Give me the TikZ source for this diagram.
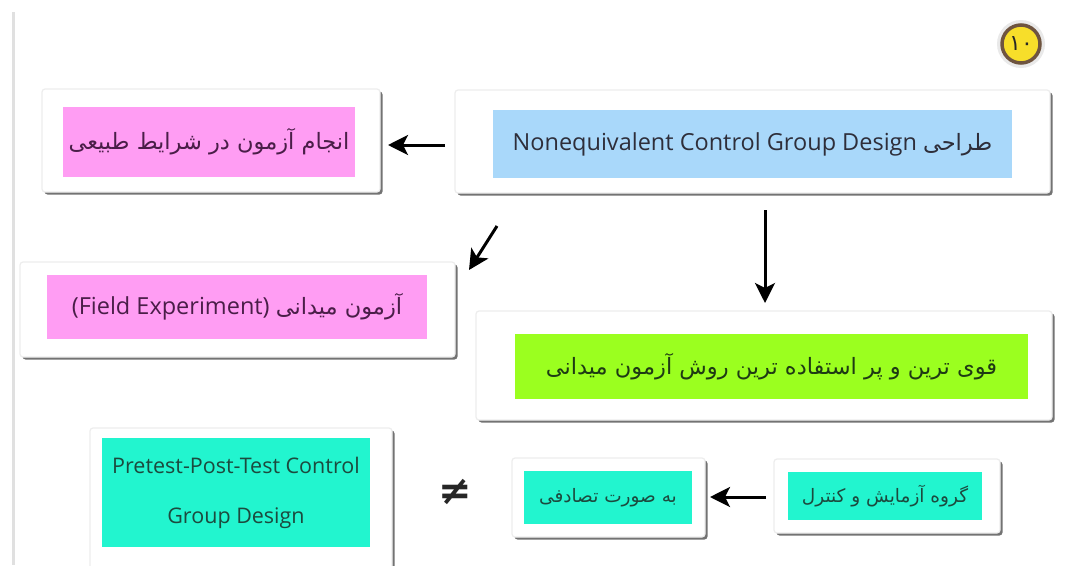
\documentclass[tikz,border=0pt]{standalone}
\usepackage{fontspec}
\setmainfont{Open Sans}
\newfontfamily\fa[Script=Arabic]{DejaVu Sans}
\newfontfamily\sym{DejaVu Sans}
\TeXXeTstate=1
\usetikzlibrary{arrows.meta,shadows}
\definecolor{cblue}{HTML}{A9D8FA}
\definecolor{cpink}{HTML}{FF9DF3}
\definecolor{cgreen}{HTML}{9BFF1F}
\definecolor{cteal}{HTML}{22F5CF}
\definecolor{tdark}{HTML}{2E2E3A}
\definecolor{tpurple}{HTML}{4A1E48}
\definecolor{tgreen}{HTML}{1E3A14}
\definecolor{tteal}{HTML}{1C4A3E}
\definecolor{badgey}{HTML}{F7DE2A}
\definecolor{badgeb}{HTML}{6E5440}
\begin{document}
\begin{tikzpicture}[x=1pt,y=-1pt,
  panel/.style={fill=white, draw=black!7, line width=1.2pt, rounded corners=3pt, inner sep=0pt,
    drop shadow={shadow xshift=2.5pt, shadow yshift=-2.5pt, fill=black!55, opacity=1}},
  cbox/.style={inner sep=0pt, align=center},
  arr/.style={line width=3pt, -{Stealth[length=20pt,width=20pt,inset=5pt]}},
  fafont/.style={font=\fa\fontsize{22.5}{26}\selectfont},
  fasmall/.style={font=\fa\fontsize{18.5}{22}\selectfont},
  enfont/.style={font=\fontsize{23.5}{27}\selectfont}]
\useasboundingbox (0,0) rectangle (1068,565);
\fill[white] (0,0) rectangle (1068,565);
\draw[line width=3pt, black!12] (13,12) -- (13,565);

% badge
\node[circle, minimum size=48pt, fill=black!12, opacity=0.7] (badgeglow) at (1021,44) {};
\node[circle, minimum size=38pt, inner sep=0pt, fill=badgey, draw=badgeb, line width=3.5pt,
  font=\fa\fontsize{22}{22}\selectfont, text=black!85] (badge) at (1021,44) {۱۰};

% panels
\node[panel, minimum width=595pt, minimum height=103pt] (p1) at (752.5,141.5) {};
\node[panel, minimum width=338pt, minimum height=103pt] (p2) at (211,140.5) {};
\node[panel, minimum width=435pt, minimum height=95pt] (p3) at (237.5,309.5) {};
\node[panel, minimum width=576pt, minimum height=109pt] (p4) at (764,365.5) {};
\node[panel, minimum width=302pt, minimum height=147pt] (p5) at (241,501.5) {};
\node[panel, minimum width=193pt, minimum height=79pt] (p6) at (608.5,497.5) {};
\node[panel, minimum width=226pt, minimum height=74pt] (p7) at (887,496) {};

% coloured boxes
\node[cbox, fill=cblue, minimum width=519pt, minimum height=68pt, text=tdark, enfont] (b1) at (752.5,144)
  {Nonequivalent Control Group Design\ {\fa\fontsize{22.5}{26}\selectfont\beginR طراحی\endR}};
\node[cbox, fill=cpink, minimum width=292pt, minimum height=70pt, text=tpurple, fafont] (b2) at (209,142)
  {\beginR انجام آزمون در شرایط طبیعی\endR};
\node[cbox, fill=cpink, minimum width=380pt, minimum height=64pt, text=tpurple, enfont] (b3) at (237,307)
  {(Field Experiment)\ {\fa\fontsize{22.5}{26}\selectfont\beginR آزمون میدانی\endR}};
\node[cbox, fill=cgreen, minimum width=513pt, minimum height=65pt, text=tgreen, fafont] (b4) at (771.5,366.5)
  {\beginR قوی ترین و پر استفاده ترین روش آزمون میدانی\endR};
\node[cbox, fill=cteal, minimum width=268pt, minimum height=109pt, text=tteal,
  font=\fontsize{21.5}{50}\selectfont] (b5) at (236,492.5)
  {Pretest-Post-Test Control\\Group Design};
\node[cbox, fill=cteal, minimum width=168pt, minimum height=53pt, text=tteal, fasmall] (b6) at (608,497.5)
  {\beginR به صورت تصادفی\endR};
\node[cbox, fill=cteal, minimum width=194pt, minimum height=48pt, text=tteal, fasmall] (b7) at (885,496)
  {\beginR گروه آزمایش و کنترل\endR};

% not-equal sign
\node[font=\sym\bfseries\fontsize{40}{40}\selectfont, text=black!85] (neq) at (455,492) {≠};

% arrows
\coordinate (a1s) at (445,145); \coordinate (a1e) at (388,145);
\coordinate (a2s) at (497,226); \coordinate (a2e) at (469,270);
\coordinate (a3s) at (765,210); \coordinate (a3e) at (765,303);
\coordinate (a4s) at (766,497); \coordinate (a4e) at (710,497);
\draw[arr] (a1s) -- (a1e);
\draw[arr] (a2s) -- (a2e);
\draw[arr] (a3s) -- (a3e);
\draw[arr] (a4s) -- (a4e);
\end{tikzpicture}
\end{document}
